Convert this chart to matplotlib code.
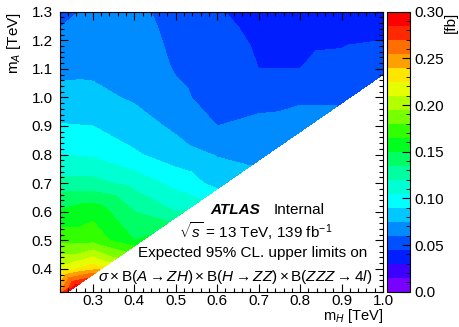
import numpy as np
import matplotlib
matplotlib.use("Agg")
import matplotlib.pyplot as plt
import matplotlib.tri as mtri
from matplotlib.colors import ListedColormap, BoundaryNorm
from matplotlib.ticker import MultipleLocator

# expected 95% CL upper limits [fb], rows follow m_a, columns follow m_h
m_h = [0.22, 0.3, 0.4, 0.5, 0.6, 0.7, 0.8, 0.9, 1.0]
m_a = [1.3, 1.2, 1.1, 1.0, 0.9, 0.8, 0.7, 0.6, 0.5, 0.4, 0.32]
limits = [
    [0.052, 0.066, 0.064, 0.054, 0.046, 0.040, 0.038, 0.038, 0.038],
    [0.066, 0.068, 0.066, 0.057, 0.050, 0.043, 0.042, 0.043, 0.045],
    [0.071, 0.072, 0.070, 0.059, 0.053, 0.045, 0.045, 0.050, 0.055],
    [0.080, 0.079, 0.073, 0.063, 0.055, 0.052, 0.057, 0.058, None],
    [0.091, 0.090, 0.082, 0.072, 0.060, 0.066, 0.068, None, None],
    [0.105, 0.103, 0.092, 0.082, 0.074, 0.072, None, None, None],
    [0.125, 0.125, 0.115, 0.100, 0.085, None, None, None, None],
    [0.152, 0.160, 0.135, 0.120, None, None, None, None, None],
    [0.175, 0.175, 0.150, None, None, None, None, None, None],
    [0.215, 0.235, None, None, None, None, None, None, None],
    [0.250, None, None, None, None, None, None, None, None],
]

# points along the kinematic edge of the scan
edge_mh = [0.22, 0.26, 0.3, 0.35, 0.4, 0.45, 0.5, 0.55, 0.6, 0.7, 0.8, 0.9, 1.0]
edge_ma = [0.30, 0.34, 0.38, 0.43, 0.48, 0.53, 0.58, 0.63, 0.68, 0.78, 0.88, 0.98, 1.08]
edge_lim = [0.295, 0.29, 0.26, 0.20, 0.165, 0.145, 0.13, 0.11, 0.09, 0.072, 0.066, 0.059, 0.056]

# ROOT-like rainbow palette, 20 contour bands
band_colors = ['#7800ff', '#3c00ff', '#001eff', '#0050ff', '#008cff',
               '#00c8ff', '#00ffff', '#00ffd2', '#00ffa0', '#00ff64',
               '#00ff1e', '#32ff00', '#78ff00', '#b4ff00', '#e6ff00',
               '#ffe600', '#ffa000', '#ff6e00', '#ff2800', '#ff0000']

plt.rcParams['font.family'] = ['Liberation Sans', 'DejaVu Sans']
plt.rcParams['mathtext.fontset'] = 'custom'
plt.rcParams['mathtext.rm'] = 'Liberation Sans'
plt.rcParams['mathtext.it'] = 'Liberation Sans:italic'
plt.rcParams['mathtext.bf'] = 'Liberation Sans:bold'
plt.rcParams['font.size'] = 11

xs, ys, zs = [], [], []
for i, ma in enumerate(m_a):
    for j, mh in enumerate(m_h):
        if limits[i][j] is not None:
            xs.append(mh)
            ys.append(ma)
            zs.append(limits[i][j])
xs += edge_mh
ys += edge_ma
zs += edge_lim

levels = np.linspace(0.0, 0.30, 21)
cmap = ListedColormap(band_colors)
norm = BoundaryNorm(levels, cmap.N)

W, H = 460, 327
fig = plt.figure(figsize=(W / 100, H / 100), dpi=100)
ax = fig.add_axes([59.7 / W, 1 - 291.7 / H, (383 - 59.7) / W, 280 / H])
cax = fig.add_axes([387 / W, 1 - 291.7 / H, 23 / W, 280 / H])

tri = mtri.Triangulation(xs, ys)
cs = ax.tricontourf(tri, zs, levels=levels, cmap=cmap, norm=norm)

ax.set_xlim(0.22, 1.0)
ax.set_ylim(0.32, 1.3)
ax.xaxis.set_major_locator(MultipleLocator(0.1))
ax.xaxis.set_minor_locator(MultipleLocator(0.02))
ax.yaxis.set_major_locator(MultipleLocator(0.1))
ax.yaxis.set_minor_locator(MultipleLocator(0.02))
ax.xaxis.set_major_formatter(plt.FormatStrFormatter('%.1f'))
ax.yaxis.set_major_formatter(plt.FormatStrFormatter('%.1f'))
ax.tick_params(which='both', direction='in', top=True, right=True, labelsize=11)
ax.tick_params(which='major', length=6, width=0.8)
ax.tick_params(which='minor', length=3, width=0.8)
ax.tick_params(axis='x', which='major', pad=1.5)
ax.tick_params(axis='y', which='major', pad=5)

ax.set_xlabel(r'm$_{H}$ [TeV]', fontsize=10.5)
ax.xaxis.set_label_coords(1.0, -0.118)
ax.xaxis.label.set_ha('right')
ax.xaxis.label.set_va('bottom')
ax.set_ylabel(r'm$_{A}$ [TeV]', fontsize=11)
ax.yaxis.set_label_coords(-0.115, 1.0)
ax.yaxis.label.set_va('bottom')
ax.yaxis.label.set_ha('right')

cb = fig.colorbar(cs, cax=cax, ticks=[0.0, 0.05, 0.10, 0.15, 0.20, 0.25, 0.30])
cb.ax.set_yticklabels(['0.0', '0.05', '0.10', '0.15', '0.20', '0.25', '0.30'])
cb.ax.yaxis.set_minor_locator(MultipleLocator(0.01))
cb.ax.tick_params(which='both', direction='in', right=True, left=False, labelsize=11, pad=3)
cb.ax.tick_params(which='major', length=6)
cb.ax.tick_params(which='minor', length=3)
cb.outline.set_linewidth(0.8)
fig.text(451 / W, 1 - 12 / H, '[fb]', rotation=90, ha='center', va='top', fontsize=11)

fig.text(210 / W, 1 - 210 / H, 'ATLAS', fontsize=11, fontweight='bold', fontstyle='italic',
         ha='left', va='center')
fig.text(274 / W, 1 - 210 / H, 'Internal', fontsize=11, ha='left', va='center')
fig.text(256 / W, 1 - 231 / H, r'$\sqrt{s}$ = 13 TeV, 139 fb$^{-1}$', fontsize=11,
         ha='center', va='center')
fig.text(252.5 / W, 1 - 253 / H, 'Expected 95% CL. upper limits on', fontsize=11,
         ha='center', va='center')
fig.text(234.7 / W, 1 - 277 / H,
         r'$\sigma\times\mathrm{B}(A\rightarrow ZH)\times\mathrm{B}(H\rightarrow ZZ)'
         r'\times\mathrm{B}(ZZZ\rightarrow 4l)$',
         fontsize=11, ha='center', va='center')

fig.savefig('out.png', dpi=100)
